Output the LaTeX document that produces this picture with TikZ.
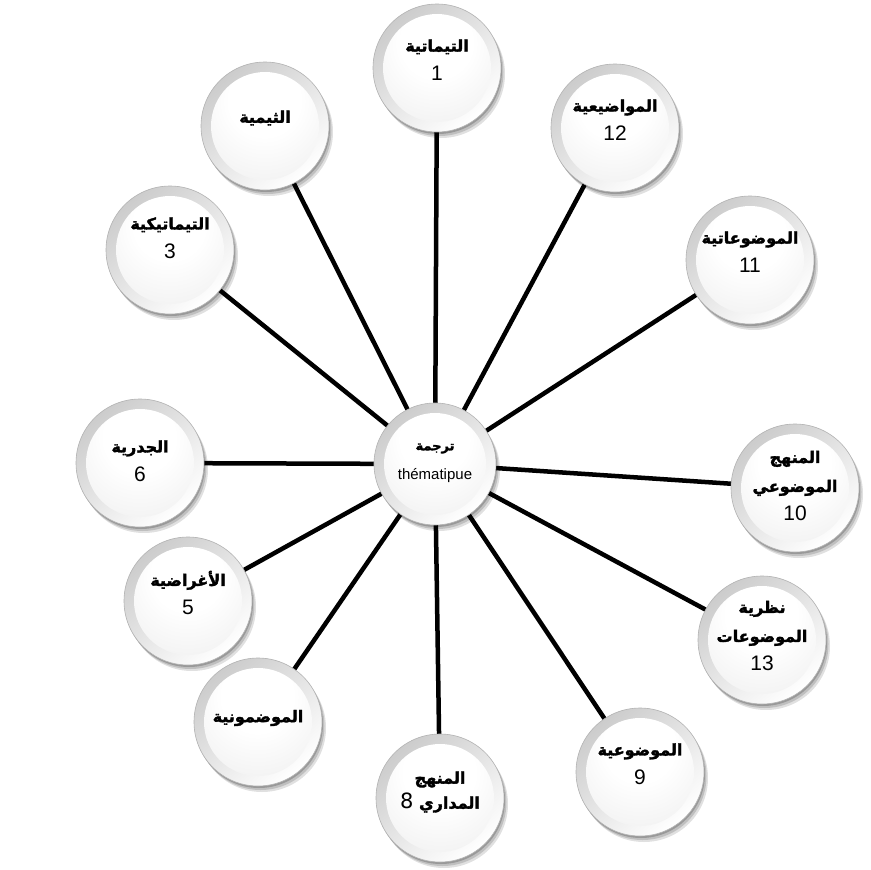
\documentclass[tikz,border=0pt]{standalone}
\usepackage{fontspec}
\setmainfont{Liberation Sans}
\newfontfamily\arabicfont[Script=Arabic, BoldFeatures={FakeBold=2}]{DejaVu Sans}
\TeXXeTstate=1
\usetikzlibrary{shadows,backgrounds}
\pgfdeclareradialshading{discshade}{\pgfpoint{8bp}{10bp}}{color(0bp)=(white); color(14bp)=(white); color(40bp)=(black!8); color(52bp)=(black!18); color(64bp)=(black!32)}
\newcommand\artext[1]{{\arabicfont\bfseries\beginR #1\endR}}
\newcommand\numtext[1]{{\fontsize{21}{29}\selectfont #1}}
\begin{document}
\begin{tikzpicture}[x=1pt,y=1pt,
  bubble/.style={circle, minimum size=128pt, inner sep=0pt, draw=black!30, line width=0.6pt,
    shading=axis, top color=black!20, bottom color=white, shading angle=40,
    drop shadow={shadow xshift=4pt, shadow yshift=-6pt, opacity=0.12, fill=black},
    drop shadow={shadow xshift=2.5pt, shadow yshift=-4pt, opacity=0.15, fill=black},
    drop shadow={shadow xshift=1pt, shadow yshift=-2pt, opacity=0.2, fill=black},
    path picture={\shade[shading=discshade] (path picture bounding box.center) circle (54pt);}},
  hub/.style={bubble, minimum size=122pt,
    path picture={\shade[shading=discshade] (path picture bounding box.center) circle (51pt);}},
  lbl/.style={align=center, inner sep=0pt, font=\fontsize{16}{29}\selectfont},
  link/.style={line width=4.5pt, black, shorten <=-4pt, shorten >=-4pt}]
\useasboundingbox (0,0) rectangle (871,-870);
\node[hub] (c) at (435,-464) {};
\node[bubble] (n1) at (437,-68) {};
\node[bubble] (n12) at (615,-128) {};
\node[bubble] (n11) at (750,-260) {};
\node[bubble] (n10) at (795,-488) {};
\node[bubble] (n13) at (762,-640) {};
\node[bubble] (n9) at (640,-772) {};
\node[bubble] (n8) at (440,-798) {};
\node[bubble] (n7) at (258,-722) {};
\node[bubble] (n5) at (188,-601) {};
\node[bubble] (n6) at (140,-463) {};
\node[bubble] (n3) at (170,-250) {};
\node[bubble] (n2) at (265,-126) {};
\begin{scope}[on background layer]
\foreach \n in {n1,n12,n11,n10,n13,n9,n8,n7,n5,n6,n3,n2}{\draw[link] (c) -- (\n);}
\end{scope}
\node[lbl] (tc) at ([yshift=1pt]c) {{\fontsize{13}{25}\selectfont\artext{ترجمة}}\\{\fontsize{15}{25}\selectfont thématipue}};
\node[lbl] (t1) at ([yshift=8pt]n1) {\artext{التيماتية}\\\numtext{1}};
\node[lbl] (t12) at ([yshift=8pt]n12) {\artext{المواضيعية}\\\numtext{12}};
\node[lbl] (t11) at ([yshift=8pt]n11) {\artext{الموضوعاتية}\\\numtext{11}};
\node[lbl] (t10) at ([yshift=2pt]n10) {\artext{المنهج}\\\artext{الموضوعي}\\\numtext{10}};
\node[lbl] (t13) at ([yshift=4pt]n13) {\artext{نظرية}\\\artext{الموضوعات}\\\numtext{13}};
\node[lbl] (t9) at ([yshift=8pt]n9) {\artext{الموضوعية}\\\numtext{9}};
\node[lbl] (t8) at ([yshift=6pt]n8) {\artext{المنهج}\\[-4pt]\artext{المداري {\fontsize{21}{29}\selectfont\mdseries 8}}};
\node[lbl] (t7) at ([yshift=4pt]n7) {\artext{الموضمونية}};
\node[lbl] (t5) at ([yshift=8pt]n5) {\artext{الأغراضية}\\\numtext{5}};
\node[lbl] (t6) at ([yshift=2pt]n6) {\artext{الجدرية}\\\numtext{6}};
\node[lbl] (t3) at ([yshift=12pt]n3) {\artext{التيماتيكية}\\\numtext{3}};
\node[lbl] (t2) at ([yshift=8pt]n2) {\artext{الثيمية}};
\end{tikzpicture}
\end{document}
